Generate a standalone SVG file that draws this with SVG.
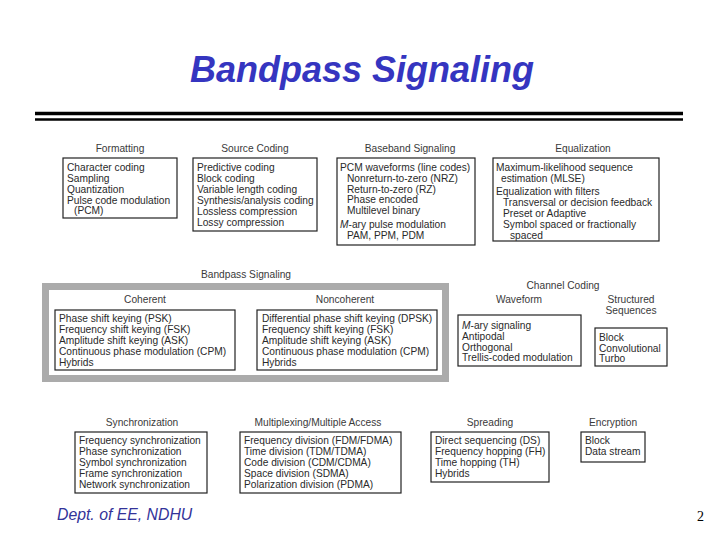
<svg xmlns="http://www.w3.org/2000/svg" width="720" height="540" viewBox="0 0 720 540">
<style>
.t{font-family:"Liberation Sans",Arial,sans-serif;font-size:10.2px;fill:#2a2a2a}
.h{font-family:"Liberation Sans",Arial,sans-serif;font-size:10.2px;fill:#3a3a3a;text-anchor:middle}
.box{fill:#fff;stroke:#222;stroke-width:1.2}
.it{font-style:italic}
</style>
<rect width="720" height="540" fill="#fff"/>
<text x="362" y="82" text-anchor="middle" font-family="Liberation Sans, Arial, sans-serif" font-size="36" font-weight="bold" font-style="italic" fill="#3535C0">Bandpass Signaling</text>
<line x1="35" y1="113.5" x2="683" y2="113.5" stroke="#000" stroke-width="3.5"/>
<line x1="35" y1="119.5" x2="683" y2="119.5" stroke="#000" stroke-width="2.5"/>

<g id="formatting">
<text class="h" x="120" y="152">Formatting</text>
<rect class="box" x="63" y="158" width="114" height="60"/>
<text class="t" x="67" y="171">Character coding</text>
<text class="t" x="67" y="182">Sampling</text>
<text class="t" x="67" y="193">Quantization</text>
<text class="t" x="67" y="204">Pulse code modulation</text>
<text class="t" x="74" y="214">(PCM)</text>
</g>

<g id="source-coding">
<text class="h" x="255" y="152">Source Coding</text>
<rect class="box" x="193" y="158" width="124" height="73"/>
<text class="t" x="197" y="171">Predictive coding</text>
<text class="t" x="197" y="182">Block coding</text>
<text class="t" x="197" y="193">Variable length coding</text>
<text class="t" x="197" y="204">Synthesis/analysis coding</text>
<text class="t" x="197" y="215">Lossless compression</text>
<text class="t" x="197" y="226">Lossy compression</text>
</g>

<g id="baseband">
<text class="h" x="410" y="152">Baseband Signaling</text>
<rect class="box" x="337" y="158" width="138" height="87"/>
<text class="t" x="340" y="171">PCM waveforms (line codes)</text>
<text class="t" x="347" y="182">Nonreturn-to-zero (NRZ)</text>
<text class="t" x="347" y="193">Return-to-zero (RZ)</text>
<text class="t" x="347" y="203">Phase encoded</text>
<text class="t" x="347" y="214">Multilevel binary</text>
<text class="t" x="340" y="228"><tspan class="it">M</tspan>-ary pulse modulation</text>
<text class="t" x="347" y="239">PAM, PPM, PDM</text>
</g>

<g id="equalization">
<text class="h" x="583" y="152">Equalization</text>
<rect class="box" x="493" y="158" width="166" height="83"/>
<text class="t" x="496" y="171">Maximum-likelihood sequence</text>
<text class="t" x="501" y="182">estimation (MLSE)</text>
<text class="t" x="496" y="195">Equalization with filters</text>
<text class="t" x="503" y="206">Transversal or decision feedback</text>
<text class="t" x="503" y="217">Preset or Adaptive</text>
<text class="t" x="503" y="228">Symbol spaced or fractionally</text>
<text class="t" x="510" y="239">spaced</text>
</g>

<g id="bandpass">
<text class="h" x="246" y="278">Bandpass Signaling</text>
<rect x="45.5" y="286.5" width="400" height="92" fill="#fff" stroke="#ABABAB" stroke-width="7"/>
<text class="h" x="145" y="303">Coherent</text>
<text class="h" x="345" y="303">Noncoherent</text>
</g>

<g id="coherent">
<rect class="box" x="55" y="310" width="180" height="60"/>
<text class="t" x="59" y="322">Phase shift keying (PSK)</text>
<text class="t" x="59" y="333">Frequency shift keying (FSK)</text>
<text class="t" x="59" y="344">Amplitude shift keying (ASK)</text>
<text class="t" x="59" y="355">Continuous phase modulation (CPM)</text>
<text class="t" x="59" y="366">Hybrids</text>
</g>

<g id="noncoherent">
<rect class="box" x="257" y="310" width="180" height="60"/>
<text class="t" x="262" y="322">Differential phase shift keying (DPSK)</text>
<text class="t" x="262" y="333">Frequency shift keying (FSK)</text>
<text class="t" x="262" y="344">Amplitude shift keying (ASK)</text>
<text class="t" x="262" y="355">Continuous phase modulation (CPM)</text>
<text class="t" x="262" y="366">Hybrids</text>
</g>

<g id="channel-coding">
<text class="h" x="563" y="289">Channel Coding</text>
<text class="h" x="519" y="303">Waveform</text>
<text class="h" x="631" y="303">Structured</text>
<text class="h" x="631" y="314">Sequences</text>
</g>

<g id="waveform">
<rect class="box" x="458" y="315" width="123" height="51"/>
<text class="t" x="462" y="329"><tspan class="it">M</tspan>-ary signaling</text>
<text class="t" x="462" y="340">Antipodal</text>
<text class="t" x="462" y="351">Orthogonal</text>
<text class="t" x="462" y="361">Trellis-coded modulation</text>
</g>

<g id="structured">
<rect class="box" x="595" y="328" width="72" height="38"/>
<text class="t" x="599" y="341">Block</text>
<text class="t" x="599" y="352">Convolutional</text>
<text class="t" x="599" y="362">Turbo</text>
</g>

<g id="synchronization">
<text class="h" x="142" y="426">Synchronization</text>
<rect class="box" x="75" y="432" width="132" height="61"/>
<text class="t" x="79" y="444">Frequency synchronization</text>
<text class="t" x="79" y="455">Phase synchronization</text>
<text class="t" x="79" y="466">Symbol synchronization</text>
<text class="t" x="79" y="477">Frame synchronization</text>
<text class="t" x="79" y="488">Network synchronization</text>
</g>

<g id="multiplexing">
<text class="h" x="318" y="426">Multiplexing/Multiple Access</text>
<rect class="box" x="240" y="432" width="161" height="61"/>
<text class="t" x="244" y="444">Frequency division (FDM/FDMA)</text>
<text class="t" x="244" y="455">Time division (TDM/TDMA)</text>
<text class="t" x="244" y="466">Code division (CDM/CDMA)</text>
<text class="t" x="244" y="477">Space division (SDMA)</text>
<text class="t" x="244" y="488">Polarization division (PDMA)</text>
</g>

<g id="spreading">
<text class="h" x="490" y="426">Spreading</text>
<rect class="box" x="431" y="432" width="118" height="50"/>
<text class="t" x="435" y="444">Direct sequencing (DS)</text>
<text class="t" x="435" y="455">Frequency hopping (FH)</text>
<text class="t" x="435" y="466">Time hopping (TH)</text>
<text class="t" x="435" y="477">Hybrids</text>
</g>

<g id="encryption">
<text class="h" x="613" y="426">Encryption</text>
<rect class="box" x="581" y="432" width="64" height="30"/>
<text class="t" x="585" y="444">Block</text>
<text class="t" x="585" y="455">Data stream</text>
</g>

<g id="connectors"></g>

<text x="57" y="520" font-family="Liberation Sans, Arial, sans-serif" font-size="15.8" font-style="italic" fill="#333399">Dept. of EE, NDHU</text>
<text x="697" y="521" font-family="Liberation Serif, Times New Roman, serif" font-size="14" fill="#000">2</text>
</svg>
